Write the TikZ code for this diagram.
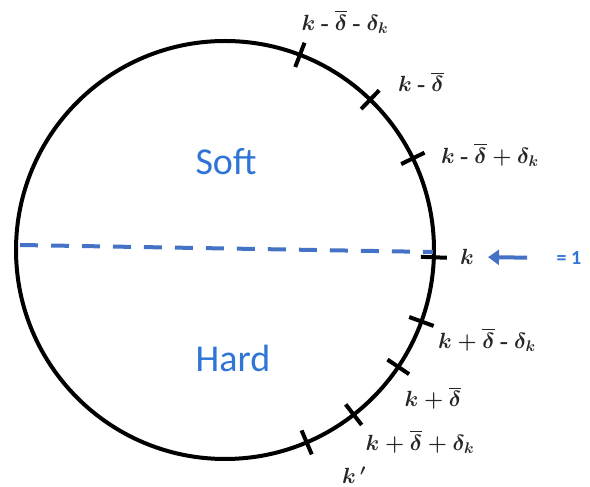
\RequirePackage{fix-cm}
\documentclass[tikz,border=0pt]{standalone}
\usepackage{amsmath}
\usepackage{amssymb}
\usepackage{fontspec}
\newfontfamily\calib{Carlito}
\usetikzlibrary{arrows.meta,calc}
\definecolor{ringblue}{RGB}{68,114,196}
\definecolor{textblue}{RGB}{46,117,214}
\newcommand{\mn}{\mathbin{\textbf{-}}}
\newcommand{\db}{\overline{\delta}}
\tikzset{
  tick/.style={line width=4pt},
  lab/.style={font=\fontsize{22}{24}\selectfont\boldmath, text=black!85, inner sep=0pt},
  zone/.style={font=\calib\fontsize{38}{40}\selectfont, text=textblue}
}

\begin{document}
\begin{tikzpicture}[x=1pt,y=1pt]
  \useasboundingbox (0,0) rectangle (590,487);
  \coordinate (O) at (225,237);
  \draw[line width=4pt] (O) circle (209);
  % dashed split
  \coordinate (L) at (20,242); \coordinate (R) at (433,235);
  \draw[ringblue, line width=4pt, dash pattern=on 18pt off 13pt] (L) -- (R);
  % ticks on the rim
  \foreach \ang in {69,46,26,-2,-20,-34,-52,-67}{
    \draw[tick] ($(O)+(\ang:196)$) -- ($(O)+(\ang:222)$);
  }
  \node[zone] (soft) at (226,325) {Soft};
  \node[zone] (hard) at (233,129) {Hard};
  \node[lab] (l1) at (345,465) {$k \mn \db \mn \delta_k$};
  \node[lab] (l2) at (421,405) {$k \mn \db$};
  \node[lab] (l3) at (490,332) {$k \mn \db + \delta_k$};
  \node[lab] (l4) at (467,230) {$k$};
  \node[lab] (l5) at (487,147) {$k + \db \mn \delta_k$};
  \node[lab] (l6) at (433,89) {$k + \db$};
  \node[lab] (l7) at (420,45) {$k + \db + \delta_k$};
  \node[lab] (l8) at (354,12) {$k\,'$};
  \node[font=\calib\bfseries\fontsize{20}{22}\selectfont, text=textblue] (eq) at (569,229) {= 1};
  \draw[ringblue, line width=4pt, -{Triangle[length=11pt,width=15pt]}, shorten <=26pt, shorten >=14pt] (eq.west) -- (l4.east);
\end{tikzpicture}
\end{document}
